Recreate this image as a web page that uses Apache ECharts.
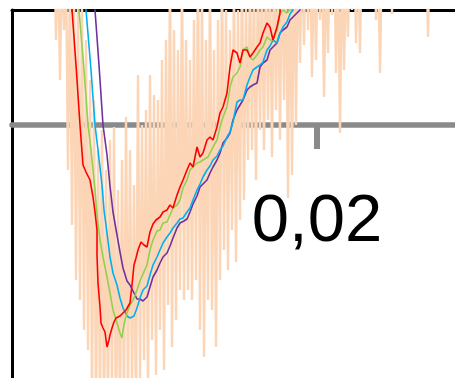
<!DOCTYPE html>
<html>
<head>
<meta charset="utf-8">
<script src="https://cdn.jsdelivr.net/npm/echarts@6/dist/echarts.min.js"></script>
<style>
  html, body { margin: 0; padding: 0; background: #fff; }
  #chart { width: 455px; height: 378px; }
</style>
</head>
<body>
<div id="chart"></div>
<script>
// Sample index axis (50 kHz sampling); labels show time in seconds.
const SAMPLE_RATE = 50000;
const tickSamples = [1000];

// Raw signal, every second sample starting at sample 737
const rawStart = 737;
const rawStep = 2;
const rawSignal = [
  205, 85, 185, 45, 175, 95, 165, -45, 155, -100,
  145, -155, 125, -175, 125, -205, 85, -225, 45, -275,
  25, -295, -25, -285, -5, -305, -45, -295, -15, -275,
  -2, -315, -65, -295, -35, -285, 8, -275, -25, -265,
  -60, -295, 50, -255, 0, -235, 15, -265, 50, -215,
  30, -250, 25, -205, 65, -245, 85, -180, 165, -222,
  95, -195, 75, -165, 155, -175, 85, -165, 65, -175,
  105, -155, 165, -205, 145, -232, 85, -175, 155, -185,
  75, -222, 105, -155, 165, -125, 115, -145, 95, -105,
  145, -137, 115, -95, 165, -75, 125, -35, 155, -25,
  145, -55, 165, -5, 155, -25, 175, 5, 165, -32,
  175, 15, 165, -15, 185, 25, 175, -73, 185, -50,
  185, 0, 195, 62, 185, 80, 195, 95, 185, 48,
  175, 65, 185, 105, 175, 28, 165, 72, 195, 110,
  205, 52, 175, -8, 175, 55, 155, 88, 185, 115,
  205, 82, 175, 72, 195, 120, 215, 125, 205, 120,
  195, 105, 175, 52, 185, 125, 215, 135, 205, 111,
  195, 130, 215, 135, 215, 145, 215, 135, 215, 140,
  215, 145, 215, 130, 215, 145, 205, 88, 195, 145
];

// Moving averages of the raw signal: [sample, value]
const ma1 = [
  [754,130],[755,115],[759,60],[763,0],[766,-40],[769,-47],[771,-51],[773,-55],[776,-72],[778,-87],
  [780,-105],[780,-130],[781,-158],[783,-182],[784,-198],[786,-203],[788,-207],[790,-222],[792,-215],[793,-210],
  [795,-203],[797,-197],[799,-193],[801,-195],[803,-191],[806,-188],[809,-185],[813,-178],[815,-160],[817,-140],
  [819,-133],[821,-125],[824,-117],[827,-120],[830,-122],[833,-107],[836,-99],[839,-95],[843,-92],[846,-87],
  [850,-85],[853,-80],[856,-83],[860,-70],[863,-62],[866,-55],[870,-45],[873,-38],[876,-42],[880,-22],
  [883,-32],[886,-28],[890,-15],[893,-12],[896,-15],[900,-2],[903,12],[906,18],[910,32],[913,58],
  [916,75],[920,72],[923,62],[926,75],[930,75],[933,68],[936,72],[940,78],[943,82],[946,92],
  [950,102],[953,98],[956,85],[960,98],[963,112],[964,130]
];
const ma2 = [
  [761,130],[762,115],[767,55],[771,0],[774,-25],[778,-65],[780,-90],[783,-115],[786,-132],[790,-152],
  [793,-168],[796,-185],[800,-198],[803,-208],[805,-213],[806,-205],[808,-195],[810,-188],[813,-180],[817,-173],
  [820,-165],[823,-156],[826,-149],[830,-140],[833,-125],[836,-115],[840,-106],[843,-105],[846,-98],[850,-97],
  [853,-90],[856,-83],[860,-80],[863,-75],[866,-63],[870,-55],[873,-45],[876,-42],[880,-38],[883,-37],
  [886,-35],[891,-32],[896,-22],[900,-15],[903,-2],[906,8],[910,18],[913,38],[916,48],[920,52],
  [923,58],[926,75],[930,78],[933,68],[936,65],[940,70],[943,75],[946,78],[950,88],[953,85],
  [956,85],[960,95],[963,112],[966,115],[970,112],[973,115],[975,130]
];
const ma3 = [
  [768,130],[769,115],[774,55],[778,0],[781,-25],[785,-60],[787,-85],[790,-108],[793,-132],[796,-148],
  [800,-160],[803,-173],[806,-183],[810,-191],[813,-193],[815,-195],[817,-191],[820,-183],[823,-173],[826,-165],
  [830,-161],[833,-150],[836,-140],[840,-132],[843,-125],[846,-118],[850,-112],[853,-108],[856,-103],[860,-98],
  [863,-94],[866,-93],[870,-87],[873,-83],[876,-75],[880,-65],[883,-59],[886,-52],[890,-45],[893,-41],
  [896,-35],[900,-31],[903,-25],[906,-21],[910,-12],[913,-7],[916,3],[920,23],[923,25],[926,25],
  [930,40],[933,48],[936,55],[940,58],[943,60],[946,63],[950,75],[953,79],[956,85],[960,82],
  [963,92],[966,98],[970,103],[973,111],[976,115],[978,130]
];
const ma4 = [
  [777,130],[778,115],[782,60],[786,0],[790,-30],[793,-61],[796,-87],[800,-110],[803,-127],[806,-143],
  [810,-156],[813,-160],[816,-166],[820,-174],[823,-174],[826,-176],[830,-172],[833,-162],[836,-152],[840,-145],
  [843,-138],[846,-132],[850,-128],[853,-121],[856,-113],[860,-103],[863,-98],[867,-96],[870,-94],[873,-87],
  [876,-79],[880,-71],[883,-62],[886,-59],[890,-55],[893,-48],[896,-42],[900,-35],[903,-28],[906,-18],
  [910,-13],[913,-8],[916,5],[920,15],[923,20],[926,25],[930,35],[933,38],[936,40],[940,42],
  [943,58],[946,62],[950,65],[953,75],[956,78],[960,82],[963,92],[966,95],[970,98],[973,105],
  [976,108],[980,112],[983,115],[985,130]
];

const rawData = rawSignal.map((v, i) => [rawStart + i * rawStep, v]);

const X_MIN = 695, X_MAX = 1138;
const Y_MIN = -253, Y_MAX = 115;

const chart = echarts.init(document.getElementById('chart'), null, { renderer: 'canvas' });

function lineSeries(data, color, width) {
  return {
    type: 'line',
    data: data,
    xAxisIndex: 0,
    yAxisIndex: 0,
    showSymbol: false,
    symbol: 'none',
    clip: true,
    silent: true,
    lineStyle: { color: color, width: width },
    emphasis: { disabled: true }
  };
}

const hidden = { show: false };

chart.setOption({
  animation: false,
  backgroundColor: '#ffffff',
  grid: [
    // plot area holding the signals
    { left: 12, right: 0, top: 10, bottom: 0, containLabel: false, outerBoundsMode: 'none' },
    // upper part, whose lower edge is the zero line carrying the time axis
    { left: 12, right: 0, top: 10, bottom: 253, containLabel: false, outerBoundsMode: 'none' }
  ],
  xAxis: [
    {
      gridIndex: 0,
      type: 'value',
      position: 'top',
      min: X_MIN,
      max: X_MAX,
      axisLine: { show: true, onZero: false, lineStyle: { color: '#000000', width: 3 } },
      axisTick: hidden,
      axisLabel: hidden,
      splitLine: hidden
    },
    {
      gridIndex: 1,
      type: 'value',
      position: 'bottom',
      min: X_MIN,
      max: X_MAX,
      axisLine: { show: true, onZero: false, lineStyle: { color: '#8a8a8a', width: 5.5 } },
      axisTick: { show: true, customValues: tickSamples, length: 24, lineStyle: { color: '#8a8a8a', width: 6 } },
      axisLabel: {
        show: true,
        customValues: tickSamples,
        formatter: v => (v / SAMPLE_RATE).toFixed(2).replace('.', ','),
        fontSize: 67,
        fontFamily: 'Liberation Sans, Arial, sans-serif',
        color: '#000000',
        margin: 64
      },
      splitLine: hidden
    }
  ],
  yAxis: [
    {
      gridIndex: 0,
      type: 'value',
      min: Y_MIN,
      max: Y_MAX,
      axisLine: { show: true, onZero: false, lineStyle: { color: '#000000', width: 3 } },
      axisTick: hidden,
      axisLabel: hidden,
      splitLine: hidden
    },
    {
      gridIndex: 1,
      type: 'value',
      min: 0,
      max: Y_MAX,
      axisLine: hidden,
      axisTick: hidden,
      axisLabel: hidden,
      splitLine: hidden
    }
  ],
  series: [
    lineSeries(rawData, '#fbd5b5', 2.4),
    lineSeries(ma4, '#7030a0', 1.6),
    lineSeries(ma3, '#00b0f0', 1.6),
    lineSeries(ma2, '#92d050', 1.6),
    lineSeries(ma1, '#ff0000', 1.6)
  ]
});
</script>
</body>
</html>
